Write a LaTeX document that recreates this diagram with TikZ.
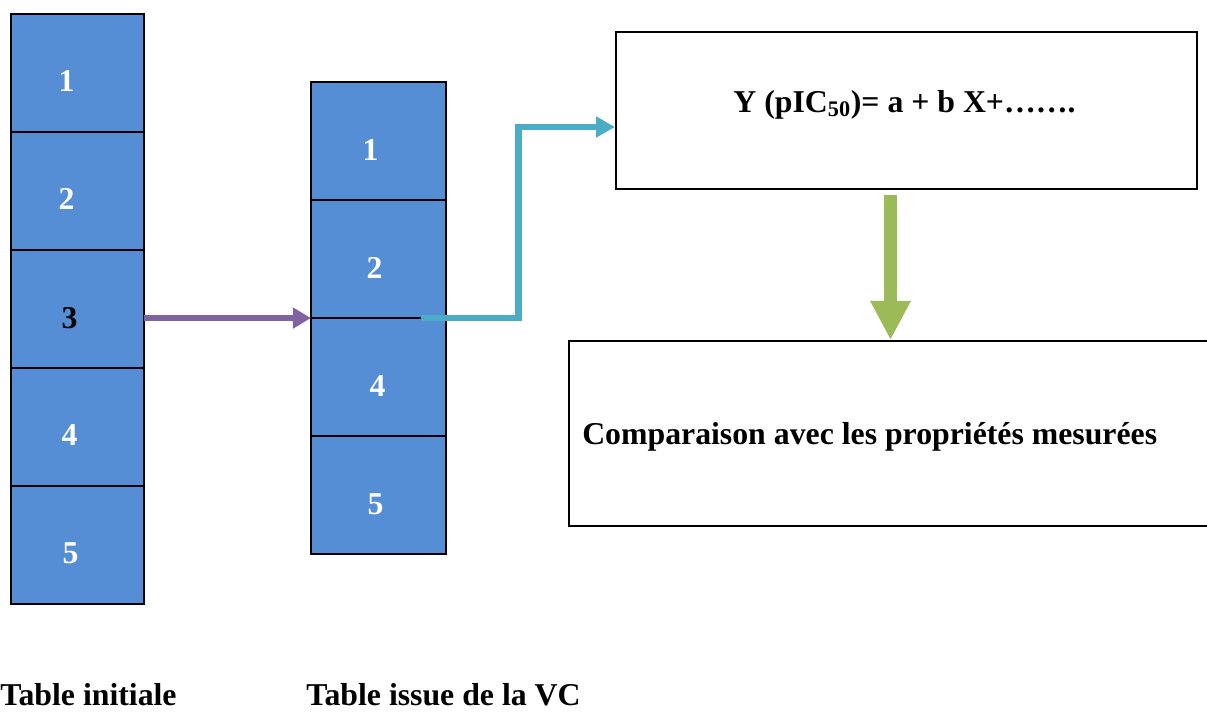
\documentclass[tikz,border=0pt]{standalone}
\usepackage{fontspec}
\setmainfont{Liberation Serif}
\usetikzlibrary{arrows.meta,positioning,calc}
\definecolor{ccell}{HTML}{558ED5}
\definecolor{cpurple}{HTML}{8064A2}
\definecolor{cteal}{HTML}{4BACC6}
\definecolor{cgreen}{HTML}{9BBB59}
\tikzset{
  cell/.style={rectangle, draw=black, fill=ccell, line width=1.4pt,
               minimum width=3.325cm, minimum height=2.95cm,
               inner sep=0pt, outer sep=0pt},
  cellm/.style={cell, minimum width=3.375cm},
  num/.style={font=\fontsize{22.6}{26}\selectfont\bfseries, text=white, inner sep=0pt},
  box/.style={rectangle, draw=black, line width=1.4pt, fill=white, inner sep=0pt},
  txt/.style={font=\fontsize{22.6}{26}\selectfont\bfseries, inner sep=0pt},
  flp/.style={-{Triangle[length=0.45cm,width=0.5cm]}, draw=cpurple, line width=0.13cm},
  flt/.style={-{Triangle[length=0.47cm,width=0.5cm]}, draw=cteal, line width=0.17cm},
  flg/.style={-{Triangle[length=0.98cm,width=0.95cm]}, draw=cgreen, line width=0.33cm}
}

\begin{document}
\begin{tikzpicture}[x=0.025cm, y=-0.025cm]

\useasboundingbox (0,0) rectangle (1207,711);

% table initiale
\node[cell] (l1) at (77.5,73) {};
\node[cell, below=0pt of l1] (l2) {};
\node[cell, below=0pt of l2] (l3) {};
\node[cell, below=0pt of l3] (l4) {};
\node[cell, below=0pt of l4] (l5) {};

\node[num] (n1) at ([shift={(-11,8)}]l1.center) {1};
\node[num] (n2) at ([shift={(-11,8)}]l2.center) {2};
\node[num, text=black] (n3) at ([shift={(-8,9)}]l3.center) {3};
\node[num] (n4) at ([shift={(-8,8)}]l4.center) {4};
\node[num] (n5) at ([shift={(-7,8)}]l5.center) {5};

% table issue de la VC
\node[cellm] (m1) at (378.5,141) {};
\node[cellm, below=0pt of m1] (m2) {};
\node[cellm, below=0pt of m2] (m4) {};
\node[cellm, below=0pt of m4] (m5) {};

\node[num] (p1) at ([shift={(-8,9)}]m1.center) {1};
\node[num] (p2) at ([shift={(-4,9)}]m2.center) {2};
\node[num] (p4) at ([shift={(-1,9)}]m4.center) {4};
\node[num] (p5) at ([shift={(-3,9)}]m5.center) {5};

% modele et comparaison
\node[box, minimum width=14.525cm, minimum height=3.925cm] (fq) at (906.5,110.5) {};
\node[txt] (tq) at ([shift={(-2,-6)}]fq.center) {Y (pIC\textsubscript{50})= a + b X+…….};

\node[box, minimum width=16.1cm, minimum height=4.625cm, anchor=north west] (fc) at (568,340) {};
\node[txt, anchor=west] (tc) at (582,437) {Comparaison avec les propriétés mesurées};

% titres
\node[txt, anchor=west] (ti) at (0,695) {Table initiale};
\node[txt, anchor=west] (tv) at (306,695) {Table issue de la VC};

% fleches
\draw[flp] (l3.east |- m2.south west) -- (m2.south west);
\coordinate (t0) at ($(m2.south)+(42,0)$);
\draw[flt] (t0) -- ++(98,0) |- ($(fq.west)+(0,16.5)$);
\coordinate (g0) at (890.5,195);
\draw[flg] (g0) -- (g0 |- fc.north) ;

\end{tikzpicture}
\end{document}
